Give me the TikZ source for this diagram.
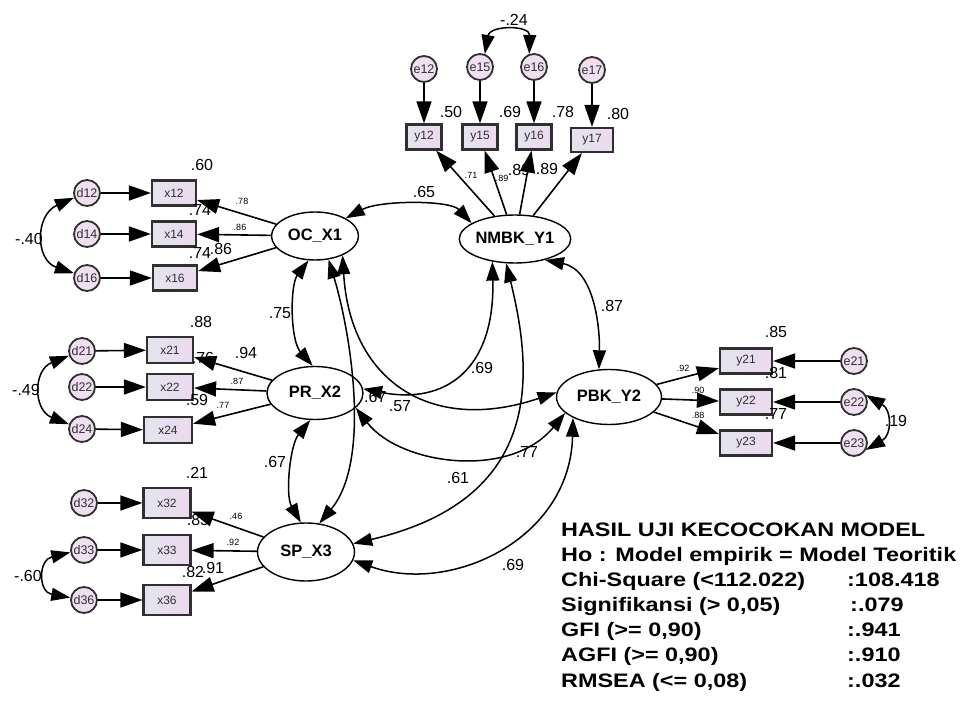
\documentclass[tikz,border=0pt]{standalone}
\usepackage{fontspec}
\setmainfont{Liberation Sans}
\newfontfamily\statfont[FakeStretch=1.2]{Liberation Sans}
\usetikzlibrary{arrows.meta,shapes.geometric}
\definecolor{boxL}{HTML}{E4E4EE}
\definecolor{boxR}{HTML}{EDD9EF}
\definecolor{errfill}{HTML}{EFDFF0}
\definecolor{rim}{HTML}{303030}

\begin{document}
\begin{tikzpicture}[x=1pt,y=-1pt,>={Triangle[length=22pt,width=15pt]},
  lat/.style={ellipse,draw,line width=1.4pt,inner sep=0pt,font=\fontsize{16.5}{18}\selectfont\bfseries},
  obs/.style={draw=rim,line width=2.2pt,left color=boxL,right color=boxR,inner sep=0pt,minimum width=44pt,minimum height=25pt,font=\fontsize{12}{14}\selectfont,text=rim},
  err/.style={circle,draw=rim,line width=1.8pt,fill=errfill,inner sep=0pt,minimum size=26pt,font=\fontsize{12.5}{14}\selectfont,text=rim},
  lbl/.style={font=\fontsize{16}{18}\selectfont,inner sep=0pt},
  coef/.style={font=\fontsize{9}{10}\selectfont,inner sep=0pt},
  gof/.style={font=\statfont\bfseries\fontsize{19.5}{22}\selectfont,anchor=base west,inner sep=0pt},
  load/.style={->,line width=1.6pt},
  cov/.style={{Triangle[length=19pt,width=13pt]}-{Triangle[length=19pt,width=13pt]},line width=1.5pt}]
\useasboundingbox (0,0) rectangle (970,711);

% latent variables
\node[lat,minimum width=87pt,minimum height=48pt] (oc) at (315,236) {OC\_X1};
\node[lat,minimum width=86pt,minimum height=48pt] (nm) at (515,239) {NMBK\_Y1};
\node[lat,minimum width=96pt,minimum height=53pt] (pr) at (315,393) {PR\_X2};
\node[lat,minimum width=105pt,minimum height=55pt] (pb) at (609,397) {PBK\_Y2};
\node[lat,minimum width=97pt,minimum height=58pt] (sp) at (306,552) {SP\_X3};

% indicators
\node[obs] (x12) at (174,193) {x12};
\node[obs] (x14) at (174,234) {x14};
\node[obs] (x16) at (175,278) {x16};
\node[obs,minimum width=46pt,minimum height=26pt] (x21) at (170,350) {x21};
\node[obs,minimum width=46pt,minimum height=26pt] (x22) at (170,387) {x22};
\node[obs,minimum width=48pt,minimum height=26pt] (x24) at (168,430) {x24};
\node[obs,minimum width=47pt,minimum height=30pt] (x32) at (167,503) {x32};
\node[obs,minimum width=47pt,minimum height=30pt] (x33) at (167,550) {x33};
\node[obs,minimum width=47pt,minimum height=30pt] (x36) at (167,600) {x36};
\node[obs,minimum width=35pt] (y12) at (424,137) {y12};
\node[obs,minimum width=35pt] (y15) at (480,137) {y15};
\node[obs,minimum width=35pt] (y16) at (534,137) {y16};
\node[obs,minimum width=42pt,minimum height=24pt] (y17) at (592,140) {y17};
\node[obs,minimum width=52pt] (y21) at (746,361) {y21};
\node[obs,minimum width=52pt] (y22) at (746,402) {y22};
\node[obs,minimum width=52pt] (y23) at (746,443) {y23};

% errors
\node[err] (d12) at (87,193) {d12};
\node[err] (d14) at (87,234) {d14};
\node[err] (d16) at (87,278) {d16};
\node[err] (d21) at (82,351) {d21};
\node[err] (d22) at (82,387) {d22};
\node[err] (d24) at (82,429) {d24};
\node[err] (d32) at (84,503) {d32};
\node[err] (d33) at (84,550) {d33};
\node[err] (d36) at (84,600) {d36};
\node[err] (e12) at (424,69) {e12};
\node[err] (e15) at (480,67) {e15};
\node[err] (e16) at (534,67) {e16};
\node[err] (e17) at (592,70) {e17};
\node[err] (e21) at (854,361) {e21};
\node[err] (e22) at (854,402) {e22};
\node[err] (e23) at (854,443) {e23};

% estimates
\node[lbl] (r60) at (202,165) {.60};
\node[lbl] (r74a) at (200,210) {.74};
\node[lbl] (r74b) at (200,253) {.74};
\node[lbl] (l86) at (221,249) {.86};
\node[coef] (c78) at (242,201) {.78};
\node[coef] (c86) at (240,227) {.86};
\node[lbl] (k40) at (29,239) {-.40};
\node[lbl] (r88) at (201,322) {.88};
\node[lbl] (r76) at (203,358) {.76};
\node[lbl] (l94) at (246,353) {.94};
\node[coef] (c87) at (237,381) {.87};
\node[lbl] (r59) at (197,400) {.59};
\node[coef] (c77) at (223,405) {.77};
\node[lbl] (k49) at (26,390) {-.49};
\node[lbl] (r21) at (197,473) {.21};
\node[lbl] (r85) at (198,520) {.85};
\node[coef] (c46) at (236,516) {.46};
\node[coef] (c92) at (233,542) {.92};
\node[lbl] (r82) at (193,572) {.82};
\node[lbl] (l91) at (213,568) {.91};
\node[lbl] (k60) at (28,576) {-.60};
\node[lbl] (k24) at (514,20) {-.24};
\node[lbl] (r50) at (451,112) {.50};
\node[lbl] (r69) at (510,112) {.69};
\node[lbl] (r78) at (563,112) {.78};
\node[lbl] (r80) at (618,114) {.80};
\node[coef] (c71) at (471,175) {.71};
\node[coef] (c89) at (502,178) {.89};
\node[lbl] (l89a) at (519,170) {.89};
\node[lbl] (l89b) at (547,169) {.89};
\node[lbl] (q85) at (776,332) {.85};
\node[lbl] (q81) at (776,373) {.81};
\node[lbl] (q77) at (776,414) {.77};
\node[lbl] (k19) at (896,421) {.19};
\node[coef] (c92b) at (683,368) {.92};
\node[coef] (c90) at (698,390) {.90};
\node[coef] (c88) at (698,415) {.88};
\node[lbl] (s65) at (424,192) {.65};
\node[lbl] (s75) at (280,313) {.75};
\node[lbl] (s87) at (612,306) {.87};
\node[lbl] (s67) at (275,462) {.67};
\node[lbl] (s69a) at (482,368) {.69};
\node[lbl] (s57) at (400,406) {.57};
\node[lbl,anchor=west] (s67b) at (364,397) {.67};
\node[lbl] (s61) at (458,478) {.61};
\node[lbl] (s77) at (527,452) {.77};
\node[lbl] (s69b) at (513,565) {.69};

\path[load] (oc) edge (x12) (oc) edge (x14) (oc) edge (x16)
  (pr) edge (x21) (pr) edge (x22) (pr) edge (x24)
  (sp) edge (x32) (sp) edge (x33) (sp) edge (x36)
  (nm) edge (y12) (nm) edge (y15) (nm) edge (y16) (nm) edge (y17)
  (pb) edge (y21) (pb) edge (y22) (pb) edge (y23);
\path[load] (d12) edge (x12) (d14) edge (x14) (d16) edge (x16)
  (d21) edge (x21) (d22) edge (x22) (d24) edge (x24)
  (d32) edge (x32) (d33) edge (x33) (d36) edge (x36)
  (e12) edge (y12) (e15) edge (y15) (e16) edge (y16) (e17) edge (y17)
  (e21) edge (y21) (e22) edge (y22) (e23) edge (y23);

% correlations
\draw[cov] (oc.30) .. controls (380,200) and (450,200) .. (nm.160);
\draw[cov] (oc.255) .. controls (290,285) and (290,340) .. (pr.95);
\draw[cov] (nm.-35) .. controls (595,270) and (600,330) .. (pb.110);
\draw[cov] (pr.260) .. controls (290,445) and (285,495) .. (sp.100);
\draw[cov] (oc.-60) .. controls (350,330) and (372,460) .. (sp.65);
\draw[cov] (oc.-35) .. controls (350,380) and (430,435) .. (pb.175);
\draw[cov] (pr.5) .. controls (445,405) and (495,370) .. (nm.-135);
\draw[cov] (nm.-110) .. controls (535,380) and (540,500) .. (sp.10);
\draw[cov] (pr.-20) .. controls (400,465) and (510,480) .. (pb.200);
\draw[cov] (sp.-10) .. controls (450,595) and (570,540) .. (pb.-150);
\draw[cov] (d12.200) .. controls (35,215) and (35,260) .. (d16.160);
\draw[cov] (d21.200) .. controls (33,370) and (33,410) .. (d24.160);
\draw[cov] (d33.190) .. controls (38,560) and (38,592) .. (d36.170);
\draw[cov] (e15.70) .. controls (490,25) and (530,25) .. (e16.110);
\draw[cov] (e22.30) .. controls (892,410) and (892,435) .. (e23.-30);

% fit summary
\node[gof] (g1) at (561,536) {HASIL UJI KECOCOKAN MODEL};
\node[gof] (g2) at (561,561) {Ho : Model empirik = Model Teoritik};
\node[gof] (g3) at (561,586) {Chi-Square (<112.022)};
\node[gof] (v3) at (847,586) {:108.418};
\node[gof] (g4) at (561,611) {Signifikansi (> 0,05)};
\node[gof] (v4) at (850,611) {:.079};
\node[gof] (g5) at (561,636) {GFI (>= 0,90)};
\node[gof] (v5) at (847,636) {:.941};
\node[gof] (g6) at (561,661) {AGFI (>= 0,90)};
\node[gof] (v6) at (847,661) {:.910};
\node[gof] (g7) at (561,687) {RMSEA (<= 0,08)};
\node[gof] (v7) at (847,687) {:.032};
\end{tikzpicture}
\end{document}
